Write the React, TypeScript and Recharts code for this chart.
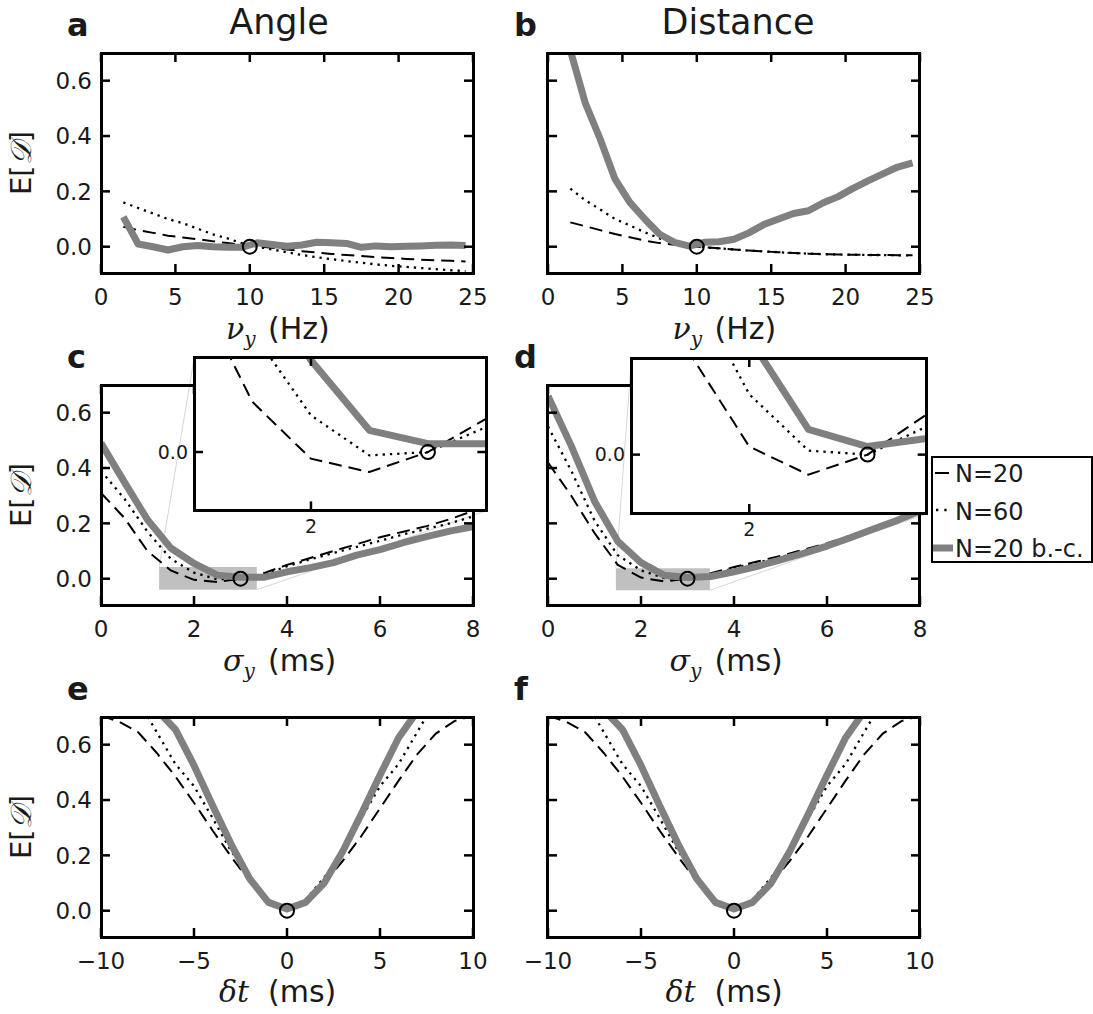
import React from 'react';
import { LineChart, Line, XAxis, YAxis, ReferenceDot, ReferenceArea, ReferenceLine } from 'recharts';

// ---------- data ----------
const NU = [1.5, 2.5, 3.5, 4.5, 5.5, 6.5, 7.5, 8.5, 9.5, 10.5, 11.5, 12.5, 13.5, 14.5, 15.5, 16.5, 17.5, 18.5, 19.5, 20.5, 21.5, 22.5, 23.5, 24.5];
const A_DASHED = [0.072, 0.06, 0.05, 0.04, 0.033, 0.027, 0.02, 0.013, 0.007, 0.002, -0.004, -0.01, -0.016, -0.021, -0.026, -0.03, -0.034, -0.038, -0.041, -0.044, -0.047, -0.049, -0.051, -0.053];
const A_DOTTED = [0.16, 0.14, 0.12, 0.1, 0.085, 0.065, 0.045, 0.03, 0.012, 0.0, -0.01, -0.02, -0.03, -0.038, -0.045, -0.052, -0.058, -0.064, -0.069, -0.073, -0.077, -0.081, -0.085, -0.088];
const A_GRAY = [0.108, 0.01, 0.0, -0.012, 0.0, 0.004, 0.0, -0.002, -0.002, 0.014, 0.008, 0.002, 0.006, 0.016, 0.014, 0.012, -0.002, 0.003, 0.0, 0.002, 0.003, 0.005, 0.006, 0.004];
const B_DASHED = [0.088, 0.074, 0.06, 0.046, 0.034, 0.022, 0.013, 0.007, 0.002, -0.002, -0.006, -0.01, -0.014, -0.017, -0.02, -0.023, -0.025, -0.027, -0.028, -0.029, -0.03, -0.03, -0.031, -0.031];
const B_DOTTED = [0.21, 0.168, 0.135, 0.1, 0.077, 0.052, 0.03, 0.012, 0.003, -0.002, -0.006, -0.01, -0.014, -0.017, -0.02, -0.023, -0.025, -0.027, -0.028, -0.029, -0.03, -0.03, -0.031, -0.031];
const B_GRAY = [0.71, 0.52, 0.39, 0.245, 0.16, 0.1, 0.045, 0.016, 0.002, 0.016, 0.018, 0.027, 0.05, 0.08, 0.1, 0.12, 0.13, 0.159, 0.181, 0.211, 0.238, 0.263, 0.288, 0.303];

const SIGMA = [0, 0.5, 1, 1.5, 2, 2.5, 3, 3.5, 4, 4.5, 5, 5.5, 6, 6.5, 7, 7.5, 8];
const C_DASHED = [0.31, 0.22, 0.1, 0.03, -0.004, -0.012, 0.0, 0.02, 0.05, 0.075, 0.1, 0.125, 0.15, 0.17, 0.19, 0.215, 0.245];
const C_DOTTED = [0.39, 0.29, 0.17, 0.072, 0.022, -0.002, 0.0, 0.015, 0.045, 0.07, 0.093, 0.115, 0.137, 0.16, 0.18, 0.2, 0.225];
const C_GRAY = [0.49, 0.35, 0.213, 0.111, 0.055, 0.013, 0.005, 0.005, 0.025, 0.04, 0.058, 0.085, 0.105, 0.13, 0.152, 0.172, 0.188];
const D_DASHED = [0.42, 0.3, 0.165, 0.05, 0.004, -0.01, 0.0, 0.02, 0.042, 0.062, 0.082, 0.105, 0.128, 0.155, 0.185, 0.215, 0.245];
const D_DOTTED = [0.55, 0.39, 0.21, 0.085, 0.03, 0.002, 0.0, 0.014, 0.038, 0.058, 0.078, 0.1, 0.125, 0.155, 0.185, 0.215, 0.25];
const D_GRAY = [0.66, 0.48, 0.28, 0.135, 0.058, 0.0125, 0.004, 0.008, 0.025, 0.045, 0.068, 0.092, 0.118, 0.148, 0.18, 0.21, 0.245];

const DT = [-10, -9, -8, -7, -6, -5, -4, -3, -2, -1, 0, 1, 2, 3, 4, 5, 6, 7, 8, 9, 10];
const E_DASHED = [0.705, 0.682, 0.645, 0.57, 0.485, 0.39, 0.29, 0.195, 0.105, 0.04, 0.0, 0.04, 0.1, 0.18, 0.27, 0.37, 0.47, 0.565, 0.64, 0.685, 0.705];
const E_DOTTED = [0.8, 0.79, 0.76, 0.645, 0.53, 0.45, 0.335, 0.215, 0.12, 0.04, 0.0, 0.04, 0.12, 0.215, 0.335, 0.45, 0.53, 0.645, 0.76, 0.79, 0.8];
const E_GRAY = [0.8, 0.79, 0.765, 0.725, 0.655, 0.525, 0.38, 0.24, 0.115, 0.03, 0.006, 0.03, 0.1, 0.215, 0.35, 0.49, 0.625, 0.72, 0.765, 0.79, 0.8];
const F_DASHED = E_DASHED;
const F_DOTTED = E_DOTTED;
const F_GRAY = E_GRAY;

const NU_TICKS = [0, 5, 10, 15, 20, 25];
const SIGMA_TICKS = [0, 2, 4, 6, 8];
const DT_TICKS = [-10, -5, 0, 5, 10];
const Y_TICKS = [0, 0.2, 0.4, 0.6];
const INSET_X_TICKS = [2];
const INSET_Y_TICKS = [0];
const LEGEND_NAMES = ['N=20', 'N=60', 'N=20 b.-c.'];
const PANEL_LETTERS = ['a', 'b', 'c', 'd', 'e', 'f'];
const TITLES = ['Angle', 'Distance'];

const buildRows = (xs: number[], d: number[], o: number[], g: number[]) =>
  xs.map((x, i) => ({ x, dashed: d[i], dotted: o[i], gray: g[i] }));

const ROWS_A = buildRows(NU, A_DASHED, A_DOTTED, A_GRAY);
const ROWS_B = buildRows(NU, B_DASHED, B_DOTTED, B_GRAY);
const ROWS_C = buildRows(SIGMA, C_DASHED, C_DOTTED, C_GRAY);
const ROWS_D = buildRows(SIGMA, D_DASHED, D_DOTTED, D_GRAY);
const ROWS_E = buildRows(DT, E_DASHED, E_DOTTED, E_GRAY);
const ROWS_F = buildRows(DT, F_DASHED, F_DOTTED, F_GRAY);

// ---------- styling ----------
const SANS = '"DejaVu Sans", sans-serif';
const SERIF = '"DejaVu Serif", serif';
const INK = '#1a1a1a';
const GRAY = '#808080';
const Y_DOMAIN: [number, number] = [-0.095, 0.7];

const fmtNum = (v: number) => (v < 0 ? '\u2212' + Math.abs(v) : String(v));
const fmtY = (v: number) => v.toFixed(1);

type PanelProps = {
  left: number; top: number; w: number; h: number;
  L: number; T: number; R: number; B: number;
  rows: any[];
  xDomain: [number, number]; yDomain: [number, number];
  xTicks: number[]; yTicks: number[];
  showYLabels: boolean;
  marker: [number, number];
  rect?: { x1: number; x2: number; y1: number; y2: number };
  connectors?: { a: { x: number; y: number }; b: { x: number; y: number } }[];
  inset?: boolean;
  fontSize: number; tickLen: number; frameW: number;
  xLabelDy: number; yLabelDx: number;
};

function Panel(p: PanelProps) {
  const { left, top, w, h, L, T, R, B, tickLen, frameW } = p;
  const xTick = (props: any) => {
    const { x, y, payload } = props;
    return (
      <g>
        <line x1={x} y1={y} x2={x} y2={y - tickLen} stroke="#000" strokeWidth={2.5} />
        <line x1={x} y1={y - h} x2={x} y2={y - h + tickLen} stroke="#000" strokeWidth={2.5} />
        <text x={x} y={y + p.xLabelDy} textAnchor="middle" fontFamily={SANS} fontSize={p.fontSize} fill={INK}>
          {fmtNum(payload.value)}
        </text>
      </g>
    );
  };
  const yTick = (props: any) => {
    const { x, y, payload } = props;
    return (
      <g>
        <line x1={x} y1={y} x2={x + tickLen} y2={y} stroke="#000" strokeWidth={2.5} />
        <line x1={x + w} y1={y} x2={x + w - tickLen} y2={y} stroke="#000" strokeWidth={2.5} />
        {p.showYLabels && (
          <text x={x - p.yLabelDx} y={y + p.fontSize * 0.36} textAnchor="end" fontFamily={SANS} fontSize={p.fontSize} fill={INK}>
            {fmtY(payload.value)}
          </text>
        )}
      </g>
    );
  };
  return (
    <div style={{ position: 'absolute', left: left - L, top: top - T, width: w + L + R, height: h + T + B }}>
      {p.inset && (
        <div style={{ position: 'absolute', left: L, top: T, width: w, height: h, background: '#fff' }} />
      )}
      <div style={{ position: 'absolute', left: 0, top: 0 }}>
        <LineChart width={w + L + R} height={h + T + B} data={p.rows} margin={{ top: T, right: R, left: 0, bottom: 0 }}>
          <XAxis type="number" dataKey="x" domain={p.xDomain} ticks={p.xTicks} allowDataOverflow interval={0}
            tickSize={0} tickMargin={0} tickLine={false} axisLine={false} height={B} tick={xTick} />
          <YAxis type="number" domain={p.yDomain} ticks={p.yTicks} allowDataOverflow interval={0}
            tickSize={0} tickMargin={0} tickLine={false} axisLine={false} width={L} tick={yTick} />
          {p.rect && (
            <ReferenceArea x1={p.rect.x1} x2={p.rect.x2} y1={p.rect.y1} y2={p.rect.y2}
              fill="#c0c0c0" fillOpacity={1} stroke="none" ifOverflow="visible" />
          )}
          {p.connectors && p.connectors.map((c, i) => (
            <ReferenceLine key={i} segment={[c.a, c.b]} stroke="#d6d6d6" strokeWidth={1} ifOverflow="visible" />
          ))}
          <Line type="linear" dataKey="dashed" stroke="#000" strokeWidth={2} strokeDasharray="13 7"
            dot={false} activeDot={false} isAnimationActive={false} />
          <Line type="linear" dataKey="dotted" stroke="#000" strokeWidth={2.3} strokeDasharray="2.3 5"
            dot={false} activeDot={false} isAnimationActive={false} />
          <Line type="linear" dataKey="gray" stroke={GRAY} strokeWidth={7} strokeLinejoin="round"
            dot={false} activeDot={false} isAnimationActive={false} />
          <ReferenceDot x={p.marker[0]} y={p.marker[1]} r={7} fill="none" stroke="#000" strokeWidth={2} ifOverflow="visible" />
        </LineChart>
      </div>
      <div style={{ position: 'absolute', left: L - frameW / 2, top: T - frameW / 2, width: w + frameW, height: h + frameW,
        border: `${frameW}px solid #000`, boxSizing: 'border-box', pointerEvents: 'none' }} />
    </div>
  );
}

const COL_X = [101, 547.5];
const ROW_Y = [53, 385, 717];
const PW = 372;
const PH = 220;

const mainCommon = { w: PW, h: PH, L: 100, T: 40, R: 30, B: 50, yDomain: Y_DOMAIN, yTicks: Y_TICKS,
  fontSize: 23, tickLen: 9, frameW: 3, xLabelDy: 32, yLabelDx: 9 };
const insetCommon = { L: 50, T: 12, R: 12, B: 36, xTicks: INSET_X_TICKS, yTicks: INSET_Y_TICKS,
  showYLabels: true, fontSize: 19, tickLen: 9, frameW: 3, xLabelDy: 23, yLabelDx: 6, inset: true,
  xDomain: [1, 3.5] as [number, number], marker: [3, 0] as [number, number] };

function XLabel({ cx, ux, base, sym, sub, unit }: { cx: number; ux: number; base: number; sym: string; sub: string; unit: string }) {
  const isT = sub === 't';
  return (
    <text x={cx} y={base} fill={INK} fontFamily={SERIF} fontStyle="italic" fontSize={30}>
      {sym}
      {isT ? (
        <tspan>{sub}</tspan>
      ) : (
        <tspan dy={7} fontSize={20}>{sub}</tspan>
      )}
      <tspan x={ux} dy={isT ? 0 : -7} fontFamily={SANS} fontStyle="normal" fontSize={30}>{unit}</tspan>
    </text>
  );
}

export default function App() {
  const dx = COL_X[1] - COL_X[0];
  return (
    <div style={{ position: 'absolute', left: 0, top: 0, width: 1093, height: 1014, background: '#fff', overflow: 'hidden' }}>
      <svg width={1093} height={1014} style={{ position: 'absolute', left: 0, top: 0 }}>
        {/* titles */}
        <text x={279} y={34} textAnchor="middle" fontFamily={SANS} fontSize={35} fill={INK}>{TITLES[0]}</text>
        <text x={738} y={34} textAnchor="middle" fontFamily={SANS} fontSize={35} fill={INK}>{TITLES[1]}</text>
        {/* panel letters */}
        {PANEL_LETTERS.map((l, i) => (
          <text key={l} x={i % 2 === 0 ? 67 : 514} y={36 + ROW_Y[Math.floor(i / 2)] - ROW_Y[0]}
            fontFamily={SANS} fontWeight="bold" fontSize={32} fill={INK}>{l}</text>
        ))}
        {/* y labels */}
        {ROW_Y.map((ry) => (
          <text key={ry} transform={`translate(31, ${ry + PH / 2}) rotate(-90)`} textAnchor="middle" fontFamily={SANS}
            fontSize={29} fill={INK}>E[<tspan fontFamily={SERIF} fontStyle="italic">𝒟</tspan>]</text>
        ))}
        {/* x labels */}
        {[0, dx].map((o) => (
          <g key={o}>
            <XLabel cx={226 + o} ux={268 + o} base={339} sym="ν" sub="y" unit="(Hz)" />
            <XLabel cx={223 + o} ux={268 + o} base={671} sym="σ" sub="y" unit="(ms)" />
            <XLabel cx={219 + o} ux={268 + o} base={1002} sym="δ" sub="t" unit="(ms)" />
          </g>
        ))}
      </svg>

      <Panel {...mainCommon} left={COL_X[0]} top={ROW_Y[0]} rows={ROWS_A} xDomain={[0, 25]} xTicks={NU_TICKS} showYLabels marker={[10, 0]} />
      <Panel {...mainCommon} left={COL_X[1]} top={ROW_Y[0]} rows={ROWS_B} xDomain={[0, 25]} xTicks={NU_TICKS} showYLabels={false} marker={[10, 0]} />
      <Panel {...mainCommon} left={COL_X[0]} top={ROW_Y[1]} rows={ROWS_C} xDomain={[0, 8]} xTicks={SIGMA_TICKS} showYLabels marker={[3, 0]}
        rect={{ x1: 1.25, x2: 3.35, y1: -0.04, y2: 0.042 }}
        connectors={[{ a: { x: 1.25, y: 0.042 }, b: { x: 2.006, y: 0.8 } }, { a: { x: 3.35, y: -0.04 }, b: { x: 8.295, y: 0.246 } }]} />
      <Panel {...mainCommon} left={COL_X[1]} top={ROW_Y[1]} rows={ROWS_D} xDomain={[0, 8]} xTicks={SIGMA_TICKS} showYLabels={false} marker={[3, 0]}
        rect={{ x1: 1.46, x2: 3.48, y1: -0.042, y2: 0.038 }}
        connectors={[{ a: { x: 1.46, y: 0.038 }, b: { x: 1.796, y: 0.797 } }, { a: { x: 3.48, y: -0.042 }, b: { x: 8.155, y: 0.236 } }]} />
      <Panel {...mainCommon} left={COL_X[0]} top={ROW_Y[2]} rows={ROWS_E} xDomain={[-10, 10]} xTicks={DT_TICKS} showYLabels marker={[0, 0]} />
      <Panel {...mainCommon} left={COL_X[1]} top={ROW_Y[2]} rows={ROWS_F} xDomain={[-10, 10]} xTicks={DT_TICKS} showYLabels={false} marker={[0, 0]} />

      <Panel {...insetCommon} left={194.3} top={357.3} w={292.4} h={153.4} rows={ROWS_C} yDomain={[-0.035, 0.057]} />
      <Panel {...insetCommon} left={631} top={358.3} w={295.7} h={155} rows={ROWS_D} yDomain={[-0.029, 0.048]} />

      {/* legend */}
      <svg width={162} height={108} style={{ position: 'absolute', left: 931, top: 456 }}>
        <rect x={1} y={1} width={160} height={105} fill="#fff" stroke="#000" strokeWidth={2} />
        <line x1={4} y1={17} x2={18} y2={17} stroke="#000" strokeWidth={2} />
        <line x1={5} y1={54} x2={16} y2={54} stroke="#000" strokeWidth={2.3} strokeDasharray="2.3 6" />
        <line x1={2} y1={92} x2={22} y2={92} stroke={GRAY} strokeWidth={7} />
        {LEGEND_NAMES.map((n, i) => (
          <text key={n} x={24} y={26 + i * 37.5} fontFamily={SANS} fontSize={24} fill={INK}>{n}</text>
        ))}
      </svg>
    </div>
  );
}
